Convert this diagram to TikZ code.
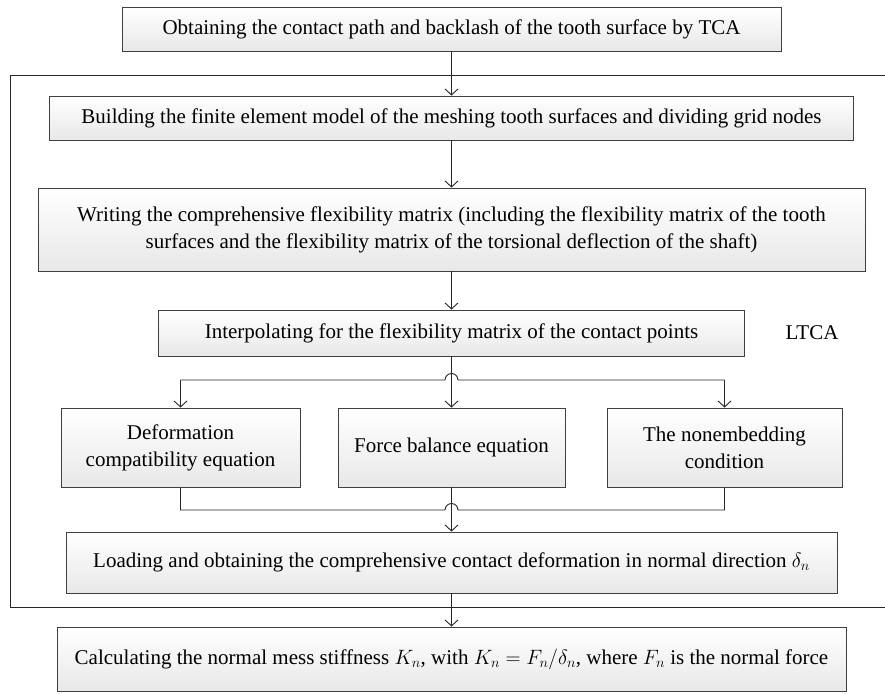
\documentclass[tikz,border=0pt]{standalone}
\usepackage{amsmath}
\usepackage{fontspec}
\setmainfont{Liberation Serif}
\usepackage{tikz}
\usetikzlibrary{arrows.meta}
\usetikzlibrary{calc}
\usetikzlibrary{positioning}

\begin{document}
\begin{tikzpicture}[x=1pt,y=-1pt,->,>={Straight Barb[length=6pt,width=13pt]},semithick,
    font=\fontsize{21}{27}\selectfont]
	\tikzstyle{stepbox}=[draw=black!75, line width=0.9pt, rectangle, align=center,
	    top color=white, bottom color=black!9, inner sep=0pt]
	\tikzstyle{link}=[draw=black!85, line width=0.9pt]
	\useasboundingbox (0,0) rectangle (885,693);
	% LTCA frame
	\draw[-,link] (885,75) -| (10,607) -- (885,607);
	\node[stepbox, minimum width=659pt, minimum height=44pt] (tca) at (451.5,29)
	    {Obtaining the contact path and backlash of the tooth surface by TCA};
	\node[stepbox, minimum width=804pt, minimum height=44pt] (fem) at (451.5,118)
	    {Building the finite element model of the meshing tooth surfaces and dividing grid nodes};
	\node[stepbox, minimum width=827pt, minimum height=83pt] (flex) at (451.5,229.5)
	    {Writing the comprehensive flexibility matrix (including the flexibility matrix of the tooth\\
	     surfaces and the flexibility matrix of the torsional deflection of the shaft)};
	\node[stepbox, minimum width=586pt, minimum height=46pt] (interp) at (451.5,333)
	    {Interpolating for the flexibility matrix of the contact points};
	\node[stepbox, minimum width=239pt, minimum height=79pt] (deform) at (180.5,447.5)
	    {Deformation\\compatibility equation};
	\node[stepbox, minimum width=227pt, minimum height=79pt] (force) at (451.5,447.5)
	    {Force balance equation};
	\node[stepbox, minimum width=235pt, minimum height=79pt] (nonemb) at (724.5,447.5)
	    {The nonembedding\\condition};
	\node[stepbox, minimum width=771pt, minimum height=61pt] (load) at (451.5,562.5)
	    {Loading and obtaining the comprehensive contact deformation in normal direction $\delta_n$};
	\node[stepbox, minimum width=789pt, minimum height=64pt] (stiff) at (451.5,659)
	    {Calculating the normal mess stiffness $K_n$, with $K_n=F_n/\delta_n$, where $F_n$ is the normal force};
	\node (ltca) at (812,333) {LTCA};
	\coordinate (split) at (451.5,380);
	\coordinate (merge) at (451.5,510);
	\coordinate (splitl) at (180.5,380);
	\coordinate (splitr) at (724.5,380);
	\path[link]
	    (tca) edge (fem)
	    (fem) edge (flex)
	    (flex) edge (interp)
	    (interp) edge (force)
	    (force) edge (load)
	    (load) edge (stiff);
	% branch to the three equations
	\draw[-,link] (splitl) -- ([xshift=-6.5pt]split)
	    arc[start angle=180, end angle=0, radius=6.5pt] -- (splitr);
	\draw[link] (splitl) -- (deform);
	\draw[link] (splitr) -- (nonemb);
	% merge of the three equations
	\draw[-,link] (deform.south) -- (deform.south |- merge) -- ([xshift=-6.5pt]merge)
	    arc[start angle=180, end angle=0, radius=6.5pt] -- (nonemb.south |- merge) -- (nonemb.south);
\end{tikzpicture}
\end{document}
